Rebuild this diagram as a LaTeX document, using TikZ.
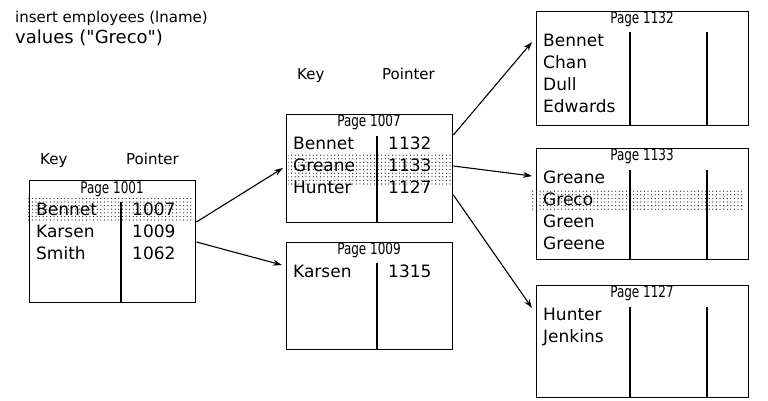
\documentclass[tikz,border=0pt]{standalone}
\usepackage{fontspec}
\setmainfont{DejaVu Sans}
\newfontfamily\narrowfont[FakeStretch=0.75]{DejaVu Sans}
\usetikzlibrary{arrows.meta,patterns.meta}

\begin{document}
\begin{tikzpicture}[x=1pt,y=-1pt,
    pagebox/.style={draw,line width=1.4pt,anchor=north west,inner sep=0pt},
    pagetitle/.style={anchor=base,inner sep=0pt,font=\narrowfont\fontsize{16}{18}\selectfont},
    cell/.style={anchor=base west,inner sep=0pt,font=\fontsize{17}{20}\selectfont},
    colhead/.style={anchor=base west,inner sep=0pt,font=\fontsize{15}{18}\selectfont},
    rule/.style={line width=1.4pt},
    band/.style={pattern={Dots[distance=3.6pt,radius=0.65pt]},pattern color=black!85},
    ptr/.style={line width=1.1pt,-{Stealth[length=9pt,width=6pt]}}]
  \useasboundingbox (0,0) rectangle (768,400);

  \node[anchor=base west,inner sep=0pt,font=\fontsize{15}{18}\selectfont] (sql1) at (15,22) {insert employees (lname)};
  \node[anchor=base west,inner sep=0pt,font=\fontsize{18}{20}\selectfont] (sql2) at (15,43) {values (\textquotedbl Greco\textquotedbl)};

  \node[colhead] (key1001) at (40,164) {Key};
  \node[colhead] (ptr1001) at (126,164) {Pointer};
  \node[colhead] (key1007) at (297,79) {Key};
  \node[colhead] (ptr1007) at (382,79) {Pointer};

  \begin{scope}[shift={(29,180)}]
    \node[pagebox,minimum width=166pt,minimum height=122pt] (p1001) at (0,0) {};
    \fill[band] (-2,17) rectangle (164,42);
    \node[pagetitle] (t1001) at (83,13) {Page 1001};
    \draw[rule] (92,22) -- (92,122);
    \foreach[count=\i,evaluate={13+22*\i} as \y] \k/\p in {Bennet/1007,Karsen/1009,Smith/1062} {
      \node[cell] (k1001-\i) at (7,\y) {\k};
      \node[cell] (v1001-\i) at (103,\y) {\p};
    }
  \end{scope}

  \begin{scope}[shift={(286,114)}]
    \node[pagebox,minimum width=166pt,minimum height=108pt] (p1007) at (0,0) {};
    \fill[band] (2,40) rectangle (165,70);
    \node[pagetitle] (t1007) at (83,12) {Page 1007};
    \draw[rule] (91,22) -- (91,108);
    \foreach[count=\i,evaluate={13+22*\i} as \y] \k/\p in {Bennet/1132,Greane/1133,Hunter/1127} {
      \node[cell] (k1007-\i) at (7,\y) {\k};
      \node[cell] (v1007-\i) at (102,\y) {\p};
    }
  \end{scope}

  \begin{scope}[shift={(286,242)}]
    \node[pagebox,minimum width=166pt,minimum height=107pt] (p1009) at (0,0) {};
    \node[pagetitle] (t1009) at (83,12) {Page 1009};
    \draw[rule] (91,21) -- (91,107);
    \foreach[count=\i,evaluate={13+22*\i} as \y] \k/\p in {Karsen/1315} {
      \node[cell] (k1009-\i) at (7,\y) {\k};
      \node[cell] (v1009-\i) at (102,\y) {\p};
    }
  \end{scope}

  \begin{scope}[shift={(536,11)}]
    \node[pagebox,minimum width=212pt,minimum height=114pt] (p1132) at (0,0) {};
    \node[pagetitle] (t1132) at (106,12) {Page 1132};
    \draw[rule] (94,21) -- (94,114);
    \draw[rule] (171,21) -- (171,114);
    \foreach[count=\i,evaluate={13+22*\i} as \y] \k in {Bennet,Chan,Dull,Edwards} {
      \node[cell] (k1132-\i) at (7,\y) {\k};
    }
  \end{scope}

  \begin{scope}[shift={(536,148)}]
    \node[pagebox,minimum width=212pt,minimum height=111pt] (p1133) at (0,0) {};
    \fill[band] (-4,42) rectangle (208,61);
    \node[pagetitle] (t1133) at (106,12) {Page 1133};
    \draw[rule] (94,22) -- (94,111);
    \draw[rule] (171,22) -- (171,111);
    \foreach[count=\i,evaluate={13+22*\i} as \y] \k in {Greane,Greco,Green,Greene} {
      \node[cell] (k1133-\i) at (7,\y) {\k};
    }
  \end{scope}

  \begin{scope}[shift={(536,285)}]
    \node[pagebox,minimum width=212pt,minimum height=112pt] (p1127) at (0,0) {};
    \node[pagetitle] (t1127) at (106,12) {Page 1127};
    \draw[rule] (94,22) -- (94,112);
    \draw[rule] (171,22) -- (171,112);
    \foreach[count=\i,evaluate={13+22*\i} as \y] \k in {Hunter,Jenkins} {
      \node[cell] (k1127-\i) at (7,\y) {\k};
    }
  \end{scope}

  \draw[ptr] ([yshift=-42pt]p1001.north east) -- ([xshift=-3pt,yshift=-54pt]p1007.north west);
  \draw[ptr] ([yshift=-62pt]p1001.north east) -- ([xshift=-4pt,yshift=-23pt]p1009.north west);
  \draw[ptr] ([yshift=-21pt]p1007.north east) -- ([xshift=-4pt,yshift=-31pt]p1132.north west);
  \draw[ptr] ([yshift=-52pt]p1007.north east) -- ([xshift=-4pt,yshift=-28pt]p1133.north west);
  \draw[ptr] ([yshift=-81pt]p1007.north east) -- ([xshift=-4pt,yshift=-23pt]p1127.north west);
\end{tikzpicture}
\end{document}
